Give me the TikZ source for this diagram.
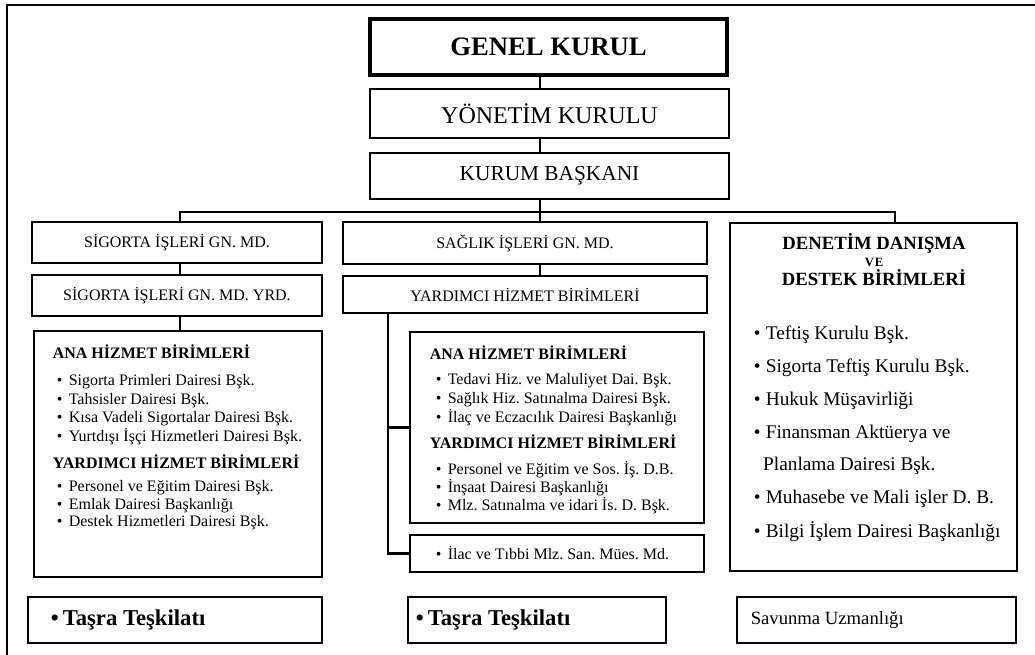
\documentclass[tikz,border=0pt]{standalone}
\usepackage{fontspec}
\setmainfont{Liberation Serif}
\frenchspacing
\tikzset{org/.style={x=.75pt,y=-.75pt,line width=1.2pt},
  bx/.style 2 args={draw,inner sep=0pt,minimum width=#1,minimum height=#2,font=\fontsize{12}{14}\selectfont},
  ln/.style={anchor=west,inner sep=0pt,font=\fontsize{12}{14}\selectfont},
  hd/.style={anchor=west,inner sep=0pt,font=\fontsize{12}{14}\selectfont\bfseries},
  dl/.style={anchor=west,inner sep=0pt,font=\fontsize{14.5}{17}\selectfont},
  dh/.style={anchor=base,inner sep=0pt,font=\fontsize{14}{17}\selectfont\bfseries},
  bus/.style={line width=2.2pt}}
\newcommand\blt{\makebox[9pt][l]{\textbullet}}

\begin{document}
\begin{tikzpicture}[org]
  \useasboundingbox (0,0) rectangle (1035,655);
  \begin{scope}
    \clip (0,0) rectangle (1035,655);
    \draw[line width=1.5pt] (7,5) rectangle (1050,670);
  \end{scope}
  % top of the chart
  \node[bx={267.75pt}{42pt},line width=2.6pt,font=\fontsize{20}{24}\selectfont\bfseries] (gk) at (548.5,47) {GENEL KURUL};
  \node[bx={269.25pt}{36.75pt},font=\fontsize{18}{22}\selectfont] (yk) at (549.5,113.5) {YÖNETİM KURULU};
  \node[bx={269.25pt}{34.5pt},font=\fontsize{16}{19}\selectfont] (kb) at (549.5,176) {KURUM BAŞKANI};
  % three columns
  \node[bx={217.5pt}{30.75pt}] (sg) at (177,242.5) {SİGORTA İŞLERİ GN. MD.};
  \node[bx={217.5pt}{30.75pt}] (sgy) at (177,295.5) {SİGORTA İŞLERİ GN. MD. YRD.};
  \node[bx={216pt}{184.5pt}] (lb) at (178,454) {};
  \node[bx={273pt}{31.5pt}] (sa) at (525,243) {SAĞLIK İŞLERİ GN. MD.};
  \node[bx={273pt}{27.75pt}] (say) at (525,294.5) {YARDIMCI HİZMET BİRİMLERİ};
  \node[bx={220.5pt}{143.25pt}] (mb) at (557,427.5) {};
  \node[bx={220.5pt}{27.75pt}] (il) at (557,553.5) {};
  \node[bx={215.25pt}{261pt}] (dn) at (873.5,397) {};
  \node[bx={220.5pt}{34.5pt}] (t1) at (175,620) {};
  \node[bx={193.5pt}{34.5pt}] (t2) at (537,620) {};
  \node[bx={209.25pt}{34.5pt}] (sv) at (876.5,620) {};
  % left box
  \node[hd] (lah) at (52,352) {ANA HİZMET BİRİMLERİ};
  \foreach \txt [count=\i] in {Sigorta Primleri Dairesi Bşk.,Tahsisler Dairesi Bşk.,Kısa Vadeli Sigortalar Dairesi Bşk.,Yurtdışı İşçi Hizmetleri Dairesi Bşk.}
    \node[ln] (la\i) at (56,{382+18.3*(\i-1)}) {\blt\txt};
  \node[hd] (lyh) at (52,462) {YARDIMCI HİZMET BİRİMLERİ};
  \foreach \txt [count=\i] in {Personel ve Eğitim Dairesi Bşk.,Emlak Dairesi Başkanlığı,Destek Hizmetleri Dairesi Bşk.}
    \node[ln] (ly\i) at (56,{488+17.5*(\i-1)}) {\blt\txt};
  % middle box
  \node[hd] (mah) at (429,353) {ANA HİZMET BİRİMLERİ};
  \foreach \txt [count=\i] in {Tedavi Hiz. ve Maluliyet Dai. Bşk.,Sağlık Hiz. Satınalma Dairesi Bşk.,İlaç ve Eczacılık Dairesi Başkanlığı}
    \node[ln] (ma\i) at (435,{381+18.5*(\i-1)}) {\blt\txt};
  \node[hd] (myh) at (429,442) {YARDIMCI HİZMET BİRİMLERİ};
  \foreach \txt [count=\i] in {Personel ve Eğitim ve Sos. İş. D.B.,İnşaat Dairesi Başkanlığı,Mlz. Satınalma ve idari İs. D. Bşk.}
    \node[ln] (my\i) at (435,{470+18*(\i-1)}) {\blt\txt};
  \node[ln] (ilt) at (435,553.5) {\blt İlac ve Tıbbi Mlz. San. Mües. Md.};
  % right box
  \node[dh] (dnh) at (874,250) {DENETİM DANIŞMA};
  \node[dh,font=\fontsize{9.5}{11}\selectfont\bfseries] (dnv) at (874,267) {V\kern.6pt E};
  \node[dh] (dnd) at (874,286) {DESTEK BİRİMLERİ};
  \foreach \txt [count=\i] in {\blt Teftiş Kurulu Bşk.,\blt Sigorta Teftiş Kurulu Bşk.,\blt Hukuk Müşavirliği,\blt Finansman Aktüerya ve,\hspace{7pt}Planlama Dairesi Bşk.,\blt Muhasebe ve Mali işler D. B.,\blt Bilgi İşlem Dairesi Başkanlığı}
    \node[dl] (dd\i) at (753,{335+32.8*(\i-1)}) {\txt};
  % bottom row
  \node[ln,font=\fontsize{17}{20}\selectfont\bfseries] (t1t) at (50,620) {\blt Taşra Teşkilatı};
  \node[ln,font=\fontsize{17}{20}\selectfont\bfseries] (t2t) at (415,620) {\blt Taşra Teşkilatı};
  \node[dl,font=\fontsize{14}{17}\selectfont] (svt) at (750,620) {Savunma Uzmanlığı};
  % connectors
  \coordinate (sp) at (540,212);
  \coordinate (bl) at (180,212);
  \coordinate (br) at (895,212);
  \coordinate (mv) at (388,300);
  \draw[line width=1.8pt] (gk.south -| sp) -- (yk.north -| sp);
  \draw[line width=1.8pt] (yk.south -| sp) -- (kb.north -| sp);
  \draw[bus] (kb.south -| sp) -- (sp);
  \draw[bus] (sg.north -| bl) -- (bl) -- (br) -- (dn.north -| br);
  \draw[bus] (sp) -- (sa.north -| sp);
  \draw[bus] (sg.south -| bl) -- (sgy.north -| bl);
  \draw[bus] (sgy.south -| bl) -- (lb.north -| bl);
  \draw[bus] (sa.south -| sp) -- (say.north -| sp);
  \draw[bus] (say.south -| mv) -- (il.west -| mv) -- (il.west);
  \draw[bus] (mb.west -| mv) -- (mb.west);
\end{tikzpicture}
\end{document}
